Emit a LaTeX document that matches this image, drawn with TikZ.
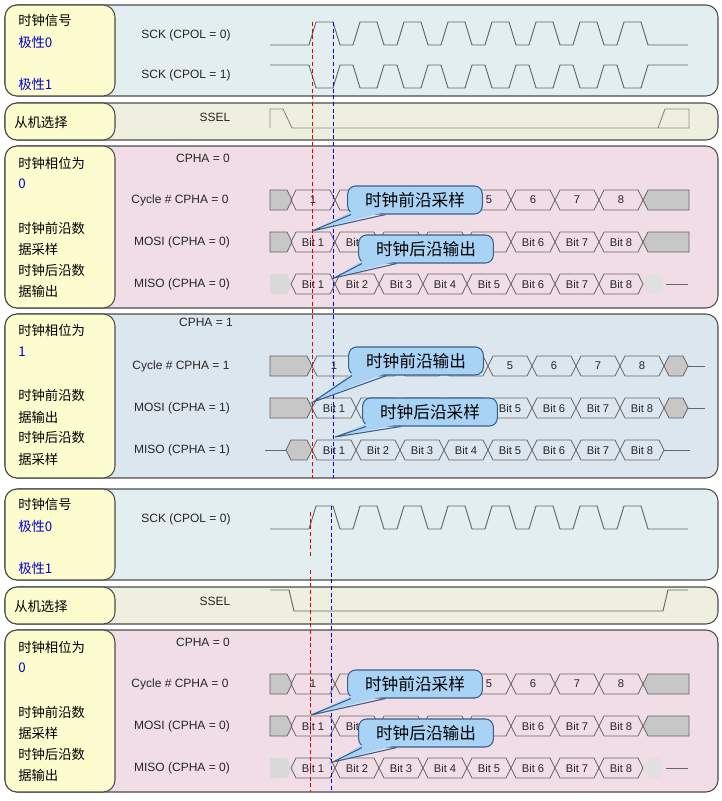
\documentclass[tikz,border=0pt]{standalone}
\usepackage{fontspec}
\setmainfont{Liberation Sans}
\newfontfamily\cjk{Noto Sans CJK SC}
\begin{document}
\begin{tikzpicture}[x=0.75pt,y=-0.75pt,
  panel/.style={draw=black!70,line width=0.8pt,rounded corners=9pt},
  ybox/.style={panel,fill=yellowbg},
  wave/.style={draw=black!60,line width=0.7pt},
  cell/.style={draw=black!60,line width=0.6pt},
  gbox/.style={cell,fill=black!22},
  lab/.style={font=\fontsize{8.4}{9}\selectfont,text=black!85,inner sep=0pt},
  sig/.style={font=\fontsize{9}{10}\selectfont,text=black!85,inner sep=0pt},
  cn/.style={font=\cjk\fontsize{10}{12}\selectfont,anchor=west,inner sep=0pt},
  cnb/.style={cn,text=blue!80!black},
  call/.style={draw=calledge,fill=callfill,rounded corners=6pt,line width=0.8pt,minimum width=101pt,minimum height=21pt,font=\cjk\fontsize{12.5}{14}\selectfont,inner sep=0pt},
  reddash/.style={red!90!black,line width=0.6pt,dash pattern=on 3pt off 2pt},
  bluedash/.style={blue,line width=0.6pt,dash pattern=on 3pt off 2pt}]
\definecolor{yellowbg}{HTML}{FDFCCF}
\definecolor{clkbg}{HTML}{E3EEF0}
\definecolor{sselbg}{HTML}{EFEFDF}
\definecolor{pinkbg}{HTML}{F1DDE6}
\definecolor{bluebg}{HTML}{DCE6EF}
\definecolor{callfill}{HTML}{A9D3F5}
\definecolor{calledge}{HTML}{3A5F8A}
\newcommand\hexcell[5]{%
  \draw[cell] (#1,#3) -- (#1+5,#3-10) -- (#2-5,#3-10) -- (#2,#3) -- (#2-5,#3+10) -- (#1+5,#3+10) -- cycle;
  \pgfmathsetmacro\xm{(#1+#2)/2}%
  \ifnum#5=0 \node[lab] at (\xm,#3) {#4};\fi}
% x0, y, prefix, hide-from, hide-to
\newcommand\cellrow[5]{\foreach \k in {1,...,8}{%
  \pgfmathsetmacro\xa{#1+44*(\k-1)}\pgfmathsetmacro\xb{#1+44*\k}%
  \pgfmathtruncatemacro\hid{(\k>=#4)&&(\k<=#5)}%
  \hexcell{\xa}{\xb}{#2}{#3\k}{\hid}}}
\newcommand\callout[4]{%
  \node[call] (#1) at (#2) {#3};
  \fill[callfill] ([xshift=-48pt,yshift=2pt]#1.south) -- (#4) -- ([xshift=-22pt,yshift=2pt]#1.south) -- cycle;
  \draw[calledge,line width=0.8pt] ([xshift=-48pt]#1.south) -- (#4) -- ([xshift=-22pt]#1.south);}
\useasboundingbox (0,0) rectangle (722,801);
\fill[white] (0,0) rectangle (722,801);
\newcommand\blockA{%
  \draw[panel,fill=clkbg] (5,5) rectangle (718,96);
  \draw[ybox] (5,5) rectangle (115,96);
  \node[cn] at (18,20) {时钟信号};
  \node[cnb] at (18,42) {极性0};
  \node[cnb] at (18,84) {极性1};
  \node[sig] at (186,35) {SCK (CPOL = 0)};
  \draw[wave] (270,45) \foreach \i in {0,...,7}{ -- ({309+44*\i},45) -- ({316+44*\i},22) -- ({333+44*\i},22) -- ({340+44*\i},45)} -- (688,45);
  \draw[panel,fill=sselbg] (5,103) rectangle (718,140);
  \draw[ybox] (5,103) rectangle (115,140);
  \node[cn] at (14,122) {从机选择};
  \node[sig] at (215,117) {SSEL};
  \draw[panel,fill=pinkbg] (5,146) rectangle (718,308);
  \draw[ybox] (5,146) rectangle (115,308);
  \node[cn] at (18,163) {时钟相位为};
  \node[cnb] at (18,184) {0};
  \node[cn] at (18,228) {时钟前沿数};
  \node[cn] at (18,249) {据采样};
  \node[cn] at (18,270) {时钟后沿数};
  \node[cn] at (18,291) {据输出};
  \node[sig] at (203,158) {CPHA = 0};
  \node[sig] at (180,200) {Cycle \# CPHA = 0};
  \node[sig] at (182,242) {MOSI (CPHA = 0)};
  \node[sig] at (182,284) {MISO (CPHA = 0)};
  \foreach \y in {200,242}{%
    \draw[gbox] (270,\y-10) -- (287,\y-10) -- (292,\y) -- (287,\y+10) -- (270,\y+10) -- cycle;
    \draw[gbox] (689,\y-10) -- (648,\y-10) -- (643,\y) -- (648,\y+10) -- (689,\y+10) -- cycle;}
  \cellrow{291}{200}{}{2}{4}
  \cellrow{291}{242}{Bit }{3}{5}
  \fill[black!15] (270,274) -- (287,274) -- (292,284) -- (287,294) -- (270,294) -- cycle;
  \fill[black!12,rounded corners=4pt] (648,274) -- (662,274) -- (662,294) -- (648,294) -- (643,284) -- cycle;
  \draw[wave] (666,284) -- (688,284);
  \cellrow{291}{284}{Bit }{9}{9}
}
\blockA
\draw[wave] (270,65) \foreach \i in {0,...,7}{ -- ({309+44*\i},65) -- ({316+44*\i},88) -- ({333+44*\i},88) -- ({340+44*\i},65)} -- (688,65);
\node[sig] at (186,75) {SCK (CPOL = 1)};
\draw[wave,draw=black!45] (270,128) -- (270,109) -- (283,109) -- (292,128) -- (689,128) -- (689,109) -- (665,109) -- (658,128);
\draw[panel,fill=bluebg] (5,314) rectangle (718,478);
\draw[ybox] (5,314) rectangle (115,478);
\node[cn] at (18,330) {时钟相位为};
\node[cnb] at (18,352) {1};
\node[cn] at (18,395) {时钟前沿数};
\node[cn] at (18,417) {据输出};
\node[cn] at (18,437) {时钟后沿数};
\node[cn] at (18,459) {据采样};
\node[sig] at (206,322) {CPHA = 1};
\node[sig] at (181,366) {Cycle \# CPHA = 1};
\node[sig] at (182,408) {MOSI (CPHA = 1)};
\node[sig] at (182,450) {MISO (CPHA = 1)};
\foreach \y in {366,408}{%
  \draw[gbox] (270,\y-10) -- (307,\y-10) -- (312,\y) -- (307,\y+10) -- (270,\y+10) -- cycle;
  \draw[gbox] (664,\y) -- (669,\y-10) -- (683,\y-10) -- (688,\y) -- (683,\y+10) -- (669,\y+10) -- cycle;
  \draw[wave] (688,\y) -- (705,\y);}
\draw[wave] (265,450) -- (286,450);
\draw[gbox] (286,450) -- (291,440) -- (307,440) -- (312,450) -- (307,460) -- (291,460) -- cycle;
\draw[wave] (664,450) -- (690,450);
\cellrow{312}{366}{}{2}{4}
\cellrow{312}{408}{Bit }{2}{4}
\cellrow{312}{450}{Bit }{9}{9}
\draw[reddash] (312,22) -- (312,478);
\draw[bluedash] (333,22) -- (333,478);
\callout{c1}{415,200}{时钟前沿采样}{312,231}
\callout{c2}{426,249}{时钟后沿输出}{334,278}
\callout{c3}{416,361}{时钟前沿输出}{313,402}
\callout{c4}{430,412}{时钟后沿采样}{335,437}
\begin{scope}[shift={(0,484)}]
\blockA
\draw[wave] (270,106) -- (289,106) -- (294,127) -- (663,127) -- (668,106) -- (688,106);
\draw[reddash] (310,28) -- (310,73);
\draw[reddash] (310,86) -- (310,308);
\draw[bluedash] (331,22) -- (331,308);
\callout{c5}{415,200}{时钟前沿采样}{311,231}
\callout{c6}{426,249}{时钟后沿输出}{333,278}
\end{scope}
\end{tikzpicture}
\end{document}
